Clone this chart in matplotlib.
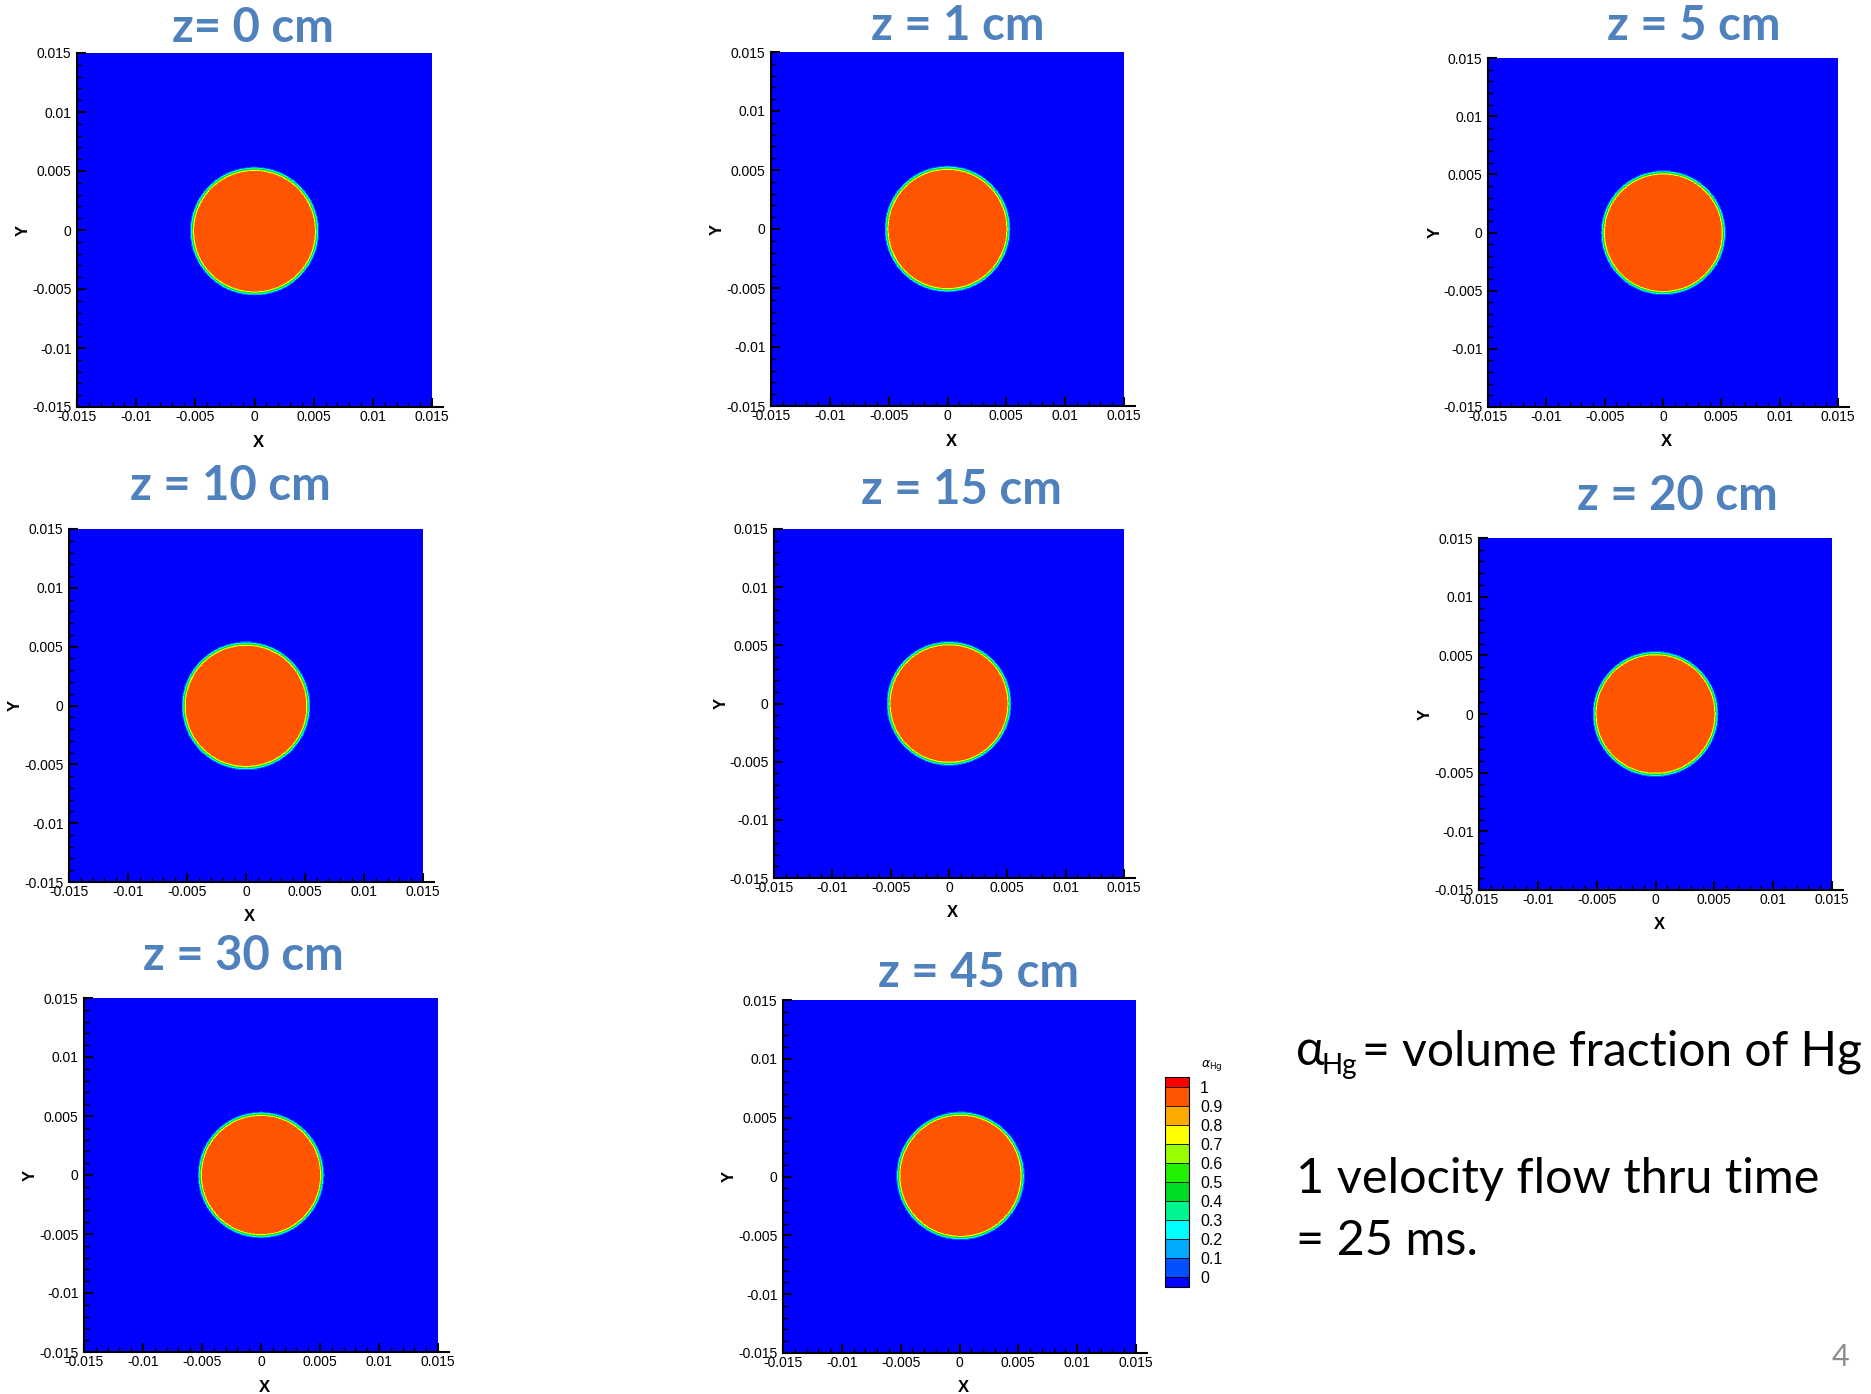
"""
Hg jet cross sections: volume fraction of Hg at several axial stations,
Tecplot-style flood plots laid out as on the original slide.
"""

import numpy as np
import matplotlib
matplotlib.use("Agg")
import matplotlib.pyplot as plt
from matplotlib.ticker import MultipleLocator

plt.rcParams["font.family"] = ["Liberation Sans", "DejaVu Sans"]
plt.rcParams["axes.unicode_minus"] = False

W, H = 1871, 1394

# ---- values ----
titles = ["z= 0 cm", "z = 1 cm", "z = 5 cm", "z = 10 cm",
          "z = 15 cm", "z = 20 cm", "z = 30 cm", "z = 45 cm"]
# jet radius and centre (m) for each station
radius   = [0.0052, 0.0051, 0.0051, 0.0052, 0.0051, 0.0051, 0.0051, 0.0052]
center_x = [0.0, 0.0, 0.00003, 0.0, 0.0, 0.0, 0.0, 0.00008]
center_y = [-0.0001, 0.0, -0.00002, -0.00003, 0.0, 0.0, 0.0, 0.00006]
interface_width = 0.0004   # thickness of the Hg / gas transition (m)

levels       = [0, 0.1, 0.2, 0.3, 0.4, 0.5, 0.6, 0.7, 0.8, 0.9, 1.0]
level_labels = ["0", "0.1", "0.2", "0.3", "0.4", "0.5",
                "0.6", "0.7", "0.8", "0.9", "1"]
# under, 10 bands, over
band_colors = ["#0000ff", "#0050ff", "#00aaff", "#00ffff", "#00f590",
               "#00dd22", "#22f000", "#99ff00", "#ffff00", "#ffaa00",
               "#ff5500", "#ff0000"]

ticks       = [-0.015, -0.01, -0.005, 0, 0.005, 0.01, 0.015]
tick_labels = ["-0.015", "-0.01", "-0.005", "0", "0.005", "0.01", "0.015"]

# ---- layout (pixels on the slide) ----
panel_box = [(77, 53, 432, 407), (771, 52, 1124, 406), (1488, 58, 1838, 407),
             (69, 529, 423, 882), (774, 529, 1124, 878), (1479, 538, 1832, 890),
             (84, 998, 438, 1352), (783, 1000, 1136, 1353)]
title_pos = [(253, 42), (958, 40), (1694, 40), (230, 500),
             (961, 504), (1677, 510), (243, 970), (978, 987)]
cbar_box = (1165, 1077, 1189, 1287)

title_color = "#4F81BD"


def fbox(l, t, r, b):
    return [l / W, 1 - b / H, (r - l) / W, (b - t) / H]


def fx(x):
    return x / W


def fy(y):
    return 1 - y / H


fig = plt.figure(figsize=(W / 100, H / 100), dpi=100)

grid = np.linspace(-0.015, 0.015, 601)
X, Y = np.meshgrid(grid, grid)

cf = None
for i, box in enumerate(panel_box):
    ax = fig.add_axes(fbox(*box))

    r = np.hypot(X - center_x[i], Y - center_y[i])
    alpha = np.clip(0.5 - (r - radius[i]) / interface_width, 0.0, 1.0)

    cf = ax.contourf(X, Y, alpha, levels=levels, colors=band_colors, extend="both")

    ax.set_xlim(-0.015, 0.015)
    ax.set_ylim(-0.015, 0.015)
    ax.set_xticks(ticks, tick_labels)
    ax.set_yticks(ticks, tick_labels)
    ax.xaxis.set_minor_locator(MultipleLocator(0.001))
    ax.yaxis.set_minor_locator(MultipleLocator(0.001))
    ax.tick_params(which="major", direction="in", length=6.5, width=1.5,
                   labelsize=10, color="black")
    ax.tick_params(which="minor", direction="in", length=3.5, width=1.0)
    ax.tick_params(axis="x", which="major", pad=2.5)
    ax.tick_params(axis="y", which="major", pad=4)

    for side in ["top", "right"]:
        ax.spines[side].set_visible(False)
    for side in ["left", "bottom"]:
        ax.spines[side].set_linewidth(1.5)
    ax.spines["bottom"].set_bounds(-0.015, 0.0159)
    ax.spines["bottom"].set_clip_on(False)

    ax.set_xlabel("X", fontsize=12, fontweight="bold", va="center")
    ax.set_ylabel("Y", fontsize=12, fontweight="bold", va="center")
    ax.xaxis.set_label_coords(0.51, -0.099)
    ax.yaxis.set_label_coords(-0.152, 0.5)

    tx, ty = title_pos[i]
    fig.text(fx(tx), fy(ty), titles[i], ha="center", va="baseline",
             fontsize=34, fontweight="bold", color=title_color, family="Lato")

# contour legend
cax = fig.add_axes(fbox(*cbar_box))
cb = fig.colorbar(cf, cax=cax, ticks=levels, drawedges=True,
                  extendfrac=0.05, extendrect=True)
cb.set_ticklabels(level_labels)
cb.ax.tick_params(length=0, pad=8, labelsize=11.5)
cb.outline.set_linewidth(0.8)
cb.dividers.set_color("black")
cb.dividers.set_linewidth(0.6)
fig.text(fx(1201), fy(1066), r"$\alpha_{\rm Hg}$", ha="left", va="center",
         fontsize=9)

# slide text
body = ["Lato", "Noto Sans", "DejaVu Sans"]
fig.text(fx(1296), fy(1065), "α", ha="left", va="baseline", fontsize=35, family=body)
fig.text(fx(1321), fy(1074), "Hg", ha="left", va="baseline", fontsize=20, family=body)
fig.text(fx(1362), fy(1065), "= volume fraction of Hg", ha="left", va="baseline",
         fontsize=34.5, family=body)
fig.text(fx(1296), fy(1193), "1 velocity flow thru time", ha="left", va="baseline",
         fontsize=35, family=body)
fig.text(fx(1296), fy(1255), "= 25 ms.", ha="left", va="baseline",
         fontsize=35, family=body)

# slide number
fig.text(fx(1849), fy(1366), "4", ha="right", va="baseline", fontsize=22,
         color="#8c8c8c", family="Lato")

fig.savefig("out.png", dpi=100)
